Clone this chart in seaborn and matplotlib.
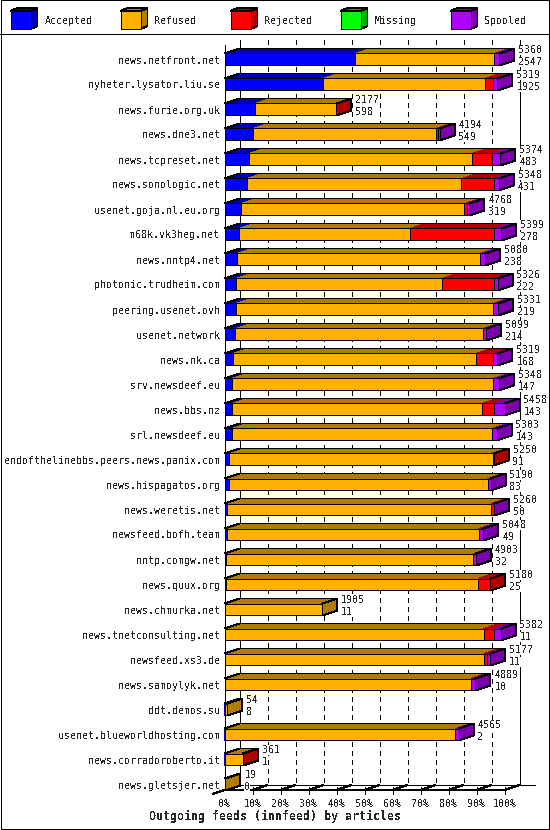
import numpy as np, pandas as pd
import matplotlib; matplotlib.use("Agg")
import matplotlib.pyplot as plt
from matplotlib.patches import Polygon, Rectangle
import seaborn as sns

# ---------- data (articles per outgoing feed) ----------
hosts = ["news.netfront.net", "nyheter.lysator.liu.se", "news.furie.org.uk", "news.dne3.net",
         "news.tcpreset.net", "news.sonologic.net", "usenet.goja.nl.eu.org", "m68k.vk3heg.net",
         "news.nntp4.net", "photonic.trudheim.com", "peering.usenet.ovh", "usenet.network",
         "news.nk.ca", "srv.newsdeef.eu", "news.bbs.nz", "srl.newsdeef.eu",
         "endofthelinebbs.peers.news.panix.com", "news.hispagatos.org", "news.weretis.net",
         "newsfeed.bofh.team", "nntp.comgw.net", "news.quux.org", "news.chmurka.net",
         "news.tnetconsulting.net", "newsfeed.xs3.de", "news.samoylyk.net", "ddt.demos.su",
         "usenet.blueworldhosting.com", "news.corradoroberto.it", "news.gletsjer.net"]
offered  = [5360, 5319, 2177, 4194, 5374, 5348, 4768, 5399, 5080, 5326, 5331, 5099, 5319, 5348, 5458,
            5303, 5250, 5190, 5260, 5048, 4903, 5180, 1905, 5382, 5177, 4889, 54, 4565, 361, 19]
accepted = [2547, 1925, 598, 549, 483, 431, 319, 278, 238, 222, 219, 214, 168, 147, 143,
            143, 91, 83, 50, 49, 32, 25, 11, 11, 11, 10, 8, 2, 1, 0]
refused  = [2713, 3159, 1569, 3575, 4343, 4187, 4359, 3333, 4742, 4016, 5014, 4820, 4727, 5084, 4872,
            5074, 5149, 5048, 5148, 4907, 4819, 4920, 1894, 5044, 5049, 4794, 46, 4498, 355, 19]
rejected = [0, 157, 10, 30, 391, 632, 45, 1644, 0, 1010, 0, 0, 346, 0, 241,
            0, 10, 0, 52, 0, 0, 235, 0, 196, 52, 10, 0, 0, 5, 0]
missing  = [0, 0, 0, 0, 0, 0, 0, 0, 0, 0, 0, 0, 0, 0, 0,
            0, 0, 0, 0, 0, 0, 0, 0, 0, 0, 0, 0, 0, 0, 0]
spooled  = [100, 78, 0, 40, 157, 98, 45, 144, 100, 78, 98, 65, 78, 117, 202,
            86, 0, 59, 10, 92, 52, 0, 0, 131, 65, 75, 0, 65, 0, 0]

SERIES = ["Accepted", "Refused", "Rejected", "Missing", "Spooled"]
FRONT  = ["#0000ff", "#ffb000", "#ff0000", "#00ff00", "#b000ff"]
SHADE  = ["#0000b0", "#b07c00", "#b00000", "#00b000", "#7c00b0"]

df = pd.DataFrame({"host": hosts, "Accepted": accepted, "Refused": refused,
                   "Rejected": rejected, "Missing": missing, "Spooled": spooled})
pct = df[SERIES] * 100.0 / df[SERIES].sum(axis=1).max()
cum = pct.cumsum(axis=1)

sns.set_style("white")
plt.rcParams["font.family"] = ["DejaVu Sans Mono"]
plt.rcParams["lines.antialiased"] = False
plt.rcParams["patch.antialiased"] = False
plt.rcParams["text.antialiased"] = False

W, H = 550, 830
X0, PXP = 224.5, 2.8          # px of 0 %, px per percent (front plane)
Y0, ROW = 59.5, 25.0          # px of first row centre, px per row
DX, DY = 15, 5                # 3d depth in px
LW = 0.72                     # 1 px
FS = 7.2

fig = plt.figure(figsize=(W / 100, H / 100), dpi=100)
bg = fig.add_axes([0, 0, 1, 1]); bg.set_xlim(0, W); bg.set_ylim(H, 0); bg.axis("off")

# ---------- frame + legend ----------
bg.add_patch(Rectangle((0.5, 0.5), 548.5, 828, fill=False, ec="black", lw=LW))
bg.plot([0, W], [34.5, 34.5], color="black", lw=LW)
for k, (lab, fc, sc) in enumerate(zip(SERIES, FRONT, SHADE)):
    x0 = 10.5 + 110 * k
    bg.add_patch(Polygon([(x0, 11), (x0 + 20, 11), (x0 + 27, 8), (x0 + 7, 8)], fc=sc, ec="black", lw=LW))
    bg.add_patch(Polygon([(x0 + 20, 11), (x0 + 20, 29), (x0 + 27, 26), (x0 + 27, 8)], fc=sc, ec="black", lw=LW))
    bg.add_patch(Rectangle((x0, 11), 20, 18, fc=fc, ec="black", lw=LW))
    bg.text(x0 + 34, 24, lab, fontsize=FS, va="baseline")

# ---------- 3d axes box ----------
xb0, xb1 = X0 + DX, X0 + 100 * PXP + DX
yf, yb = 790, 790 - DY
bg.plot([xb0, xb0], [40, yb], color="black", lw=LW)
bg.plot([xb1, xb1], [40, yb], color="black", lw=LW)
bg.plot([xb0, xb1 + DX], [yb, yb], color="black", lw=LW)
bg.plot([X0, X0], [45, yf], color="black", lw=LW)
bg.plot([X0, X0 + 100 * PXP, xb1], [yf, yf, yb], color="black", lw=LW)
bg.plot([xb0, X0 - 12], [yb, yf + 4], color="black", lw=LW)
for t in range(1, 10):
    bg.plot([xb0 + t * 10 * PXP] * 2, [40, yb], color="black", lw=LW, ls=(0, (5, 5)))
for t in range(0, 11):
    xf = X0 + t * 10 * PXP
    if t:
        bg.plot([xf, xf], [787, 794], color="black", lw=LW)
        bg.plot([xf, xf + DX], [yf, yb], color="black", lw=LW)
    bg.text(xf, 806.5, f"{t * 10}%", fontsize=FS, ha="center", va="baseline")
bg.text(W / 2, 820, "Outgoing feeds (innfeed) by articles", fontsize=8.4, weight="bold",
        ha="center", va="baseline")

# ---------- bars ----------
n = len(hosts)
ax = fig.add_axes([X0 / W, 1 - 790 / H, 100 * PXP / W, 745 / H], zorder=2)
ax.patch.set_alpha(0)
for k in reversed(range(len(SERIES))):
    sns.barplot(x=cum.iloc[:, k], y=df["host"], orient="h", color=FRONT[k], saturation=1,
                width=0.48, edgecolor="black", linewidth=LW, errorbar=None, zorder=3, ax=ax)
ax.set_xlim(0, 100)
ax.set_ylim((790 - Y0) / ROW, (45 - Y0) / ROW)
ax.axis("off")

dx, dy, half = DX / PXP, -DY / ROW, 0.24
box = dict(fc="white", ec="none", pad=0)
for i in range(n):
    yt, ybt = i - half, i + half
    left = 0.0
    for k in range(len(SERIES)):
        w = pct.iat[i, k]
        if w <= 0:
            continue
        right = left + w
        ax.add_patch(Polygon([(left, yt), (right, yt), (right + dx, yt + dy), (left + dx, yt + dy)],
                             fc=SHADE[k], ec="none", zorder=2, clip_on=False))
        ax.add_patch(Polygon([(right, yt), (right, ybt), (right + dx, ybt + dy), (right + dx, yt + dy)],
                             fc=SHADE[k], ec="none", zorder=2, clip_on=False))
        left = right
    T = left
    ax.plot([0, dx, T + dx, T + dx, T], [yt, yt + dy, yt + dy, ybt + dy, ybt],
            color="black", lw=LW, zorder=2.5, clip_on=False)
    ax.plot([T, T + dx], [yt, yt + dy], color="black", lw=LW, zorder=2.5, clip_on=False)
    ax.text(T + 19 / PXP, i - 0.25, f"{offered[i]}", fontsize=FS, va="baseline",
            bbox=box, zorder=4, clip_on=False)
    ax.text(T + 19 / PXP, i + 0.22, f"{accepted[i]}", fontsize=FS, va="baseline",
            bbox=box, zorder=4, clip_on=False)
    ax.text(-4.5 / PXP, i + 0.16, hosts[i], fontsize=FS, ha="right", va="baseline", clip_on=False)

fig.savefig("out.png", dpi=100, facecolor="white")
